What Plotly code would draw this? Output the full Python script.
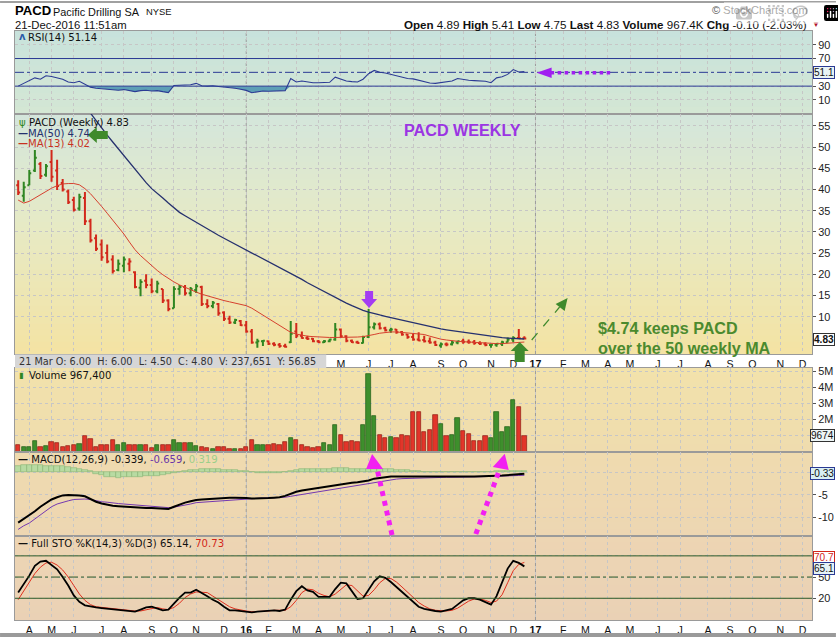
import plotly.graph_objects as go
import pandas as pd

# ---------------- data (weekly bars) ----------------
first_week = "2015-03-23"

opens = [41.0, 38.5, 41.0, 44.5, 46.0, 43.5, 46.5, 44.5, 41.5, 39.5,
         37.5, 35.5, 38.0, 32.5, 28.5, 27.0, 25.0, 23.5, 21.0, 22.0,
         22.5, 20.5, 16.8, 18.5, 17.5, 16.0, 16.5, 13.8, 12.0, 16.5,
         17.0, 15.5, 16.3, 17.0, 13.0, 12.5, 13.0, 11.0, 9.5, 8.6,
         9.0, 8.0, 6.5, 3.9, 4.2, 4.2, 3.6, 3.4, 3.1, 4.0,
         6.5, 5.5, 5.0, 4.8, 4.2, 4.0, 4.2, 4.6, 7.0, 5.4,
         4.3, 4.0, 3.8, 5.2, 7.5, 8.2, 7.3, 6.8, 7.0, 6.3,
         5.8, 5.2, 4.6, 4.5, 4.2, 3.9, 3.2, 3.5, 3.5, 3.9,
         4.2, 4.1, 4.0, 3.8, 3.6, 3.3, 3.4, 3.6, 4.0, 4.6,
         5.0, 4.89]
highs = [42.2, 41.8, 44.6, 49.3, 46.5, 46.0, 49.3, 47.0, 42.5, 40.0,
         38.3, 39.0, 39.4, 33.1, 29.4, 28.2, 27.0, 24.5, 23.5, 24.2,
         23.8, 20.7, 18.8, 20.0, 19.0, 18.5, 16.5, 14.1, 17.2, 17.5,
         17.5, 17.0, 17.7, 17.3, 14.1, 13.7, 13.2, 11.3, 10.2, 9.5,
         9.2, 9.0, 7.1, 4.8, 4.5, 4.4, 4.0, 3.8, 3.6, 9.0,
         8.5, 6.5, 5.5, 5.0, 4.5, 4.5, 4.8, 8.5, 7.2, 5.6,
         4.6, 4.3, 5.5, 11.8, 8.6, 8.6, 7.6, 7.4, 7.1, 6.6,
         5.9, 5.9, 6.3, 5.5, 5.1, 4.3, 3.9, 3.9, 4.3, 4.3,
         4.8, 4.6, 4.5, 4.2, 4.0, 3.6, 3.8, 4.3, 5.1, 5.4,
         7.1, 5.41]
lows = [38.7, 37.1, 41.0, 44.1, 42.5, 43.0, 41.8, 39.9, 39.5, 36.6,
        34.8, 35.0, 31.6, 27.5, 25.5, 23.2, 22.6, 20.2, 20.7, 20.5,
        20.7, 16.7, 14.8, 16.7, 15.5, 15.5, 13.2, 11.3, 12.0, 15.2,
        15.0, 14.8, 15.6, 12.5, 12.0, 12.0, 10.2, 9.0, 8.3, 8.3,
        7.8, 6.2, 3.6, 2.7, 3.1, 3.3, 3.0, 2.7, 2.7, 3.8,
        5.0, 4.8, 4.5, 4.0, 3.8, 3.8, 4.0, 4.3, 5.0, 4.0,
        3.8, 3.6, 3.7, 5.0, 7.0, 7.0, 6.5, 6.2, 6.0, 5.5,
        4.8, 4.3, 4.2, 3.9, 3.6, 3.1, 2.7, 3.0, 3.2, 3.5,
        3.6, 3.6, 3.4, 3.3, 3.0, 2.7, 2.9, 3.1, 3.9, 4.0,
        4.8, 4.75]
closes = [39.3, 40.5, 43.8, 47.5, 43.2, 45.5, 43.0, 40.8, 40.0, 37.0,
          35.2, 38.2, 32.5, 28.0, 26.0, 24.0, 23.0, 20.8, 22.5, 23.5,
          23.0, 17.0, 18.2, 17.5, 16.0, 17.8, 13.8, 11.8, 16.5, 17.0,
          15.5, 16.5, 17.2, 13.0, 12.5, 13.3, 10.8, 9.5, 8.6, 9.2,
          8.0, 6.5, 3.9, 4.2, 4.3, 3.6, 3.4, 3.1, 2.9, 6.0,
          5.5, 5.0, 4.8, 4.2, 4.0, 4.2, 4.6, 7.0, 5.4, 4.3,
          4.0, 3.8, 5.2, 7.5, 8.2, 7.3, 6.8, 7.0, 6.3, 5.8,
          5.2, 4.6, 4.4, 4.2, 3.9, 3.3, 3.5, 3.45, 3.9, 4.2,
          4.1, 4.0, 3.8, 3.6, 3.3, 3.4, 3.6, 4.0, 4.6, 5.0,
          4.93, 4.83]
volume_millions = [0.38, 0.27, 0.31, 0.63, 0.27, 0.33, 0.60, 0.55, 0.27, 0.33,
                   0.38, 0.48, 0.94, 0.79, 0.31, 0.42, 0.42, 0.69, 0.38, 0.55,
                   0.42, 0.38, 0.38, 0.38, 0.20, 0.38, 0.38, 0.38, 0.69, 0.52,
                   0.55, 0.55, 0.33, 0.27, 0.23, 0.17, 0.27, 0.31, 0.17, 0.17,
                   0.17, 0.27, 0.69, 0.42, 0.42, 0.42, 0.48, 0.42, 0.58, 0.85,
                   0.75, 0.42, 0.27, 0.20, 0.27, 0.54, 0.42, 1.67, 1.04, 0.58,
                   0.63, 0.58, 1.63, 4.85, 2.25, 1.04, 0.83, 0.90, 0.83, 1.04,
                   1.00, 2.46, 2.50, 1.20, 1.35, 2.30, 1.73, 1.00, 1.04, 2.10,
                   1.31, 1.10, 0.63, 0.63, 0.94, 0.83, 2.46, 1.19, 1.56, 3.23,
                   2.77, 0.9674]
ma50 = [None, None, None, None, None, None, None, None, None, None,
        None, None, None, 58.0, 56.2, 54.6, 52.8, 51.2, 49.6, 48.0,
        46.2, 44.6, 43.0, 41.6, 40.2, 39.2, 38.0, 36.8, 35.7, 34.6,
        33.8, 33.0, 32.2, 31.4, 30.6, 29.9, 29.2, 28.5, 27.8, 27.2,
        26.5, 25.9, 25.2, 24.5, 23.8, 23.0, 22.3, 21.6, 20.9, 20.2,
        19.5, 18.8, 18.0, 17.3, 16.6, 15.9, 15.2, 14.5, 13.8, 13.2,
        12.6, 12.0, 11.5, 11.1, 10.7, 10.4, 10.1, 9.8, 9.5, 9.2,
        8.9, 8.6, 8.2, 7.9, 7.6, 7.3, 7.1, 6.9, 6.7, 6.5,
        6.3, 6.1, 5.9, 5.7, 5.5, 5.35, 5.2, 5.05, 4.95, 4.85,
        4.78, 4.74]
ma13 = [37.5, 36.8, 37.2, 38.0, 38.8, 39.6, 40.3, 40.9, 41.3, 41.4,
        41.4, 41.1, 40.2, 39.0, 37.6, 36.0, 34.4, 32.8, 31.2, 29.5,
        27.6, 25.8, 24.4, 23.2, 22.0, 20.9, 19.9, 19.0, 18.2, 17.5,
        16.9, 16.3, 15.8, 15.3, 14.9, 14.5, 14.1, 13.8, 13.5, 13.2,
        12.9, 12.6, 12.0, 11.2, 10.4, 9.5, 8.6, 7.8, 7.0, 6.3,
        5.9, 5.6, 5.4, 5.3, 5.2, 5.15, 5.1, 5.1, 5.1, 5.1,
        5.15, 5.2, 5.3, 5.5, 5.8, 6.1, 6.3, 6.4, 6.4, 6.3,
        6.2, 6.1, 6.0, 5.8, 5.4, 5.0, 4.7, 4.5, 4.3, 4.2,
        4.1, 4.0, 3.9, 3.8, 3.75, 3.7, 3.65, 3.65, 3.7, 3.8,
        3.9, 4.02]
rsi14 = [30, 34, 38, 42, 40, 45, 44, 42, 40, 36,
         35, 37, 33, 28.5, 27, 26.5, 25.5, 24.5, 24, 25,
         24, 22, 23.5, 24, 23, 23.5, 22, 20.7, 31, 31.5,
         31, 32, 34, 30.5, 30, 30.5, 29.5, 29, 28, 27,
         25.5, 23.8, 20.5, 22, 23, 22.5, 22.5, 22.5, 23.5, 41,
         36, 37.5, 36, 35, 35, 35, 35.5, 43, 40, 37.5,
         36.5, 36, 40, 48, 52.7, 50, 49, 47, 45, 43,
         41, 40.5, 38.5, 36, 34.5, 34, 35, 36, 37.5, 41,
         39.5, 38.5, 38, 37.5, 37, 35, 42, 43.5, 47, 54,
         50.5, 51.14]
macd_line = [-11.1, -10.3, -9.6, -8.6, -7.6, -6.7, -6.0, -5.5, -5.1, -5.0,
             -5.0, -5.1, -5.3, -5.9, -6.5, -6.9, -7.2, -7.4, -7.5, -7.6,
             -7.7, -7.8, -7.8, -7.9, -7.9, -8.0, -8.0, -8.1, -7.6, -7.1,
             -6.7, -6.4, -6.1, -6.0, -5.9, -5.8, -5.8, -5.7, -5.6, -5.6,
             -5.6, -5.7, -5.8, -5.8, -5.8, -5.7, -5.6, -5.5, -5.2, -4.7,
             -4.3, -4.0, -3.8, -3.6, -3.4, -3.2, -3.0, -2.8, -2.6, -2.5,
             -2.3, -2.2, -2.0, -1.8, -1.4, -1.2, -1.0, -0.95, -0.95, -0.95,
             -1.0, -1.0, -1.0, -1.0, -1.05, -1.1, -1.1, -1.1, -1.05, -1.0,
             -1.0, -0.95, -0.9, -0.9, -0.85, -0.8, -0.75, -0.7, -0.6, -0.5,
             -0.4, -0.339]
macd_signal = [-12.6, -11.8, -11.2, -10.3, -9.2, -8.3, -7.6, -7.0, -6.6, -6.3,
               -6.0, -5.9, -5.9, -6.0, -6.3, -6.5, -6.6, -6.8, -6.9, -7.0,
               -7.1, -7.2, -7.3, -7.4, -7.5, -7.6, -7.7, -7.8, -7.7, -7.5,
               -7.2, -7.0, -6.7, -6.6, -6.5, -6.4, -6.3, -6.2, -6.1, -6.0,
               -5.9, -5.85, -5.8, -5.75, -5.7, -5.65, -5.6, -5.6, -5.5, -5.3,
               -5.1, -4.8, -4.6, -4.4, -4.2, -4.0, -3.8, -3.6, -3.4, -3.2,
               -3.1, -2.9, -2.7, -2.5, -2.3, -2.0, -1.8, -1.6, -1.5, -1.4,
               -1.35, -1.3, -1.2, -1.15, -1.15, -1.15, -1.15, -1.1, -1.1, -1.1,
               -1.1, -1.05, -1.0, -1.0, -0.95, -0.9, -0.9, -0.85, -0.8, -0.75,
               -0.7, -0.659]
macd_hist = [1.5, 1.6, 1.6, 1.6, 1.6, 1.5, 1.5, 1.4, 1.3, 1.2,
             1.0, 0.8, 0.5, 0.2, -0.3, -0.7, -1.0, -1.1, -1.2, -1.1,
             -1.1, -1.0, -1.0, -0.9, -0.9, -0.8, -0.6, -0.4, -0.2, 0.0,
             0.3, 0.5, 0.6, 0.7, 0.7, 0.7, 0.7, 0.6, 0.5, 0.4,
             0.3, 0.2, 0.0, -0.1, -0.2, -0.2, -0.1, -0.1, 0.0, 0.3,
             0.5, 0.7, 0.8, 0.8, 0.8, 0.8, 0.8, 0.9, 0.9, 0.9,
             0.8, 0.8, 0.8, 0.8, 0.8, 0.8, 0.8, 0.7, 0.6, 0.5,
             0.4, 0.3, 0.2, 0.1, 0.1, 0.1, 0.1, 0.0, 0.0, 0.1,
             0.1, 0.1, 0.1, 0.1, 0.1, 0.1, 0.2, 0.2, 0.2, 0.3,
             0.3, 0.319]
sto_k = [28, 40, 52, 66, 72, 73, 67, 61, 50, 38,
         24, 15, 10, 8, 7, 6, 5, 4, 3, 2,
         2, 1, 4, 7, 8, 5, 3, 4, 13, 21,
         28, 28, 32, 28, 23, 18, 14, 8, 3, 3,
         2, 2, 0, 1, 2, 3, 3, 2, 4, 18,
         30, 37, 31, 29, 22, 22, 22, 33, 42, 41,
         30, 19, 20, 32, 44, 51, 49, 43, 36, 29,
         21, 14, 8, 5, 3, 2, 1, 3, 5, 11,
         17, 20, 20, 18, 14, 11, 23, 42, 62, 73,
         70, 65.14]
sto_d = [18, 30, 42, 55, 64, 70, 71, 67, 60, 50,
         38, 26, 17, 11, 8, 7, 6, 5, 4, 3,
         2, 2, 2, 4, 6, 7, 5, 4, 7, 13,
         21, 26, 29, 29, 28, 23, 18, 13, 8, 5,
         3, 2, 1, 1, 1, 2, 3, 3, 3, 8,
         17, 28, 33, 32, 27, 24, 22, 26, 32, 39,
         38, 30, 23, 24, 32, 42, 48, 48, 43, 36,
         29, 21, 14, 9, 5, 3, 2, 2, 3, 6,
         11, 16, 19, 19, 17, 14, 16, 25, 42, 59,
         68, 70.73]

tick_dates = ["2015-04-06", "2015-05-04", "2015-06-01", "2015-07-06", "2015-08-03",
              "2015-09-07", "2015-10-05", "2015-11-02", "2015-12-07", "2016-01-04",
              "2016-02-01", "2016-03-07", "2016-04-04", "2016-05-02", "2016-06-06",
              "2016-07-04", "2016-08-01", "2016-09-05", "2016-10-03", "2016-11-07",
              "2016-12-05", "2017-01-02", "2017-02-06", "2017-03-06", "2017-04-03",
              "2017-05-01", "2017-06-05", "2017-07-03", "2017-08-07", "2017-09-04",
              "2017-10-02", "2017-11-06", "2017-12-04"]
tick_text = ["A", "M", "J", "J", "A", "S", "O", "N", "D", "<b>16</b>",
             "F", "M", "A", "M", "J", "J", "A", "S", "O", "N",
             "D", "<b>17</b>", "F", "M", "A", "M", "J", "J", "A", "S",
             "O", "N", "D"]
hidden_under_status_box = 13   # month labels covered by the status box under the price panel
year_starts = ["2016-01-04", "2017-01-02"]

x_start, x_end = "2015-03-19", "2017-12-16"

weeks = pd.date_range(first_week, periods=len(closes), freq="7D")

# ---------------- geometry ----------------
# Positions below are in pixels of the 838x637 target picture.  The page is
# photographed from a slightly larger layout area, so the figure is laid out on
# that area and every pixel position is converted with the same factors.
REF_W, REF_H = 838, 637
SX, SY = 838 / 846, 637 / 648
FIG_W, FIG_H = round(REF_W / SX), round(REF_H / SY)
FS = 1 / SX                                   # font size factor
PL, PR, PT, PB = 15, 814, 30, 619             # plot area, target pixels


def xp(px):
    return (px - PL) / (PR - PL)


def yp(py):
    return (PB - py) / (PB - PT)


panels = {  # top, bottom in target pixels
    "rsi": (30, 113), "price": (113, 353), "vol": (367, 451),
    "macd": (451, 535), "sto": (535, 619)}


def dom(name):
    t, b = panels[name]
    return [yp(b), yp(t)]


GREEN, RED = "#2f8622", "#d2281b"
up = [closes[i] > (closes[i - 1] if i > 0 else opens[i]) for i in range(len(closes))]

fig = go.Figure()

# RSI
fig.add_trace(go.Scatter(x=weeks, y=[30] * len(rsi14), mode="lines",
                         line=dict(width=0, color="rgba(0,0,0,0)"), yaxis="y", xaxis="x",
                         hoverinfo="skip"))
fig.add_trace(go.Scatter(x=weeks, y=[min(v, 30) for v in rsi14], mode="lines",
                         line=dict(width=0, color="rgba(0,0,0,0)"), fill="tonexty",
                         fillcolor="#5d9fb6", yaxis="y", xaxis="x", hoverinfo="skip"))
fig.add_trace(go.Scatter(x=weeks, y=rsi14, mode="lines", line=dict(color="#2b3a94", width=1.1),
                         yaxis="y", xaxis="x"))

# price bars
for flag, col in ((True, GREEN), (False, RED)):
    idx = [i for i in range(len(closes)) if up[i] == flag]
    fig.add_trace(go.Ohlc(x=[weeks[i] for i in idx], open=[opens[i] for i in idx],
                          high=[highs[i] for i in idx], low=[lows[i] for i in idx],
                          close=[closes[i] for i in idx], tickwidth=0.35,
                          increasing=dict(line=dict(color=col, width=2)),
                          decreasing=dict(line=dict(color=col, width=2)),
                          xaxis="x2", yaxis="y2"))
fig.add_trace(go.Scatter(x=weeks, y=ma50, mode="lines", line=dict(color="#25306e", width=1.3),
                         xaxis="x2", yaxis="y2", connectgaps=False))
fig.add_trace(go.Scatter(x=weeks, y=ma13, mode="lines", line=dict(color="#d6402e", width=1),
                         xaxis="x2", yaxis="y2"))

# volume
WEEK_MS = 7 * 24 * 3600 * 1000
fig.add_trace(go.Bar(x=weeks, y=volume_millions, width=[WEEK_MS * 0.78] * len(weeks),
                     marker=dict(color=["#3e8f2c" if u else "#e2352a" for u in up],
                                 line=dict(color=["#1f5c16" if u else "#8f1d12" for u in up], width=0.7)),
                     xaxis="x3", yaxis="y3"))

# MACD
fig.add_trace(go.Bar(x=weeks, y=macd_hist, width=[WEEK_MS] * len(weeks),
                     marker=dict(color="#b8dba2", line=dict(color="#86b676", width=0.6)),
                     xaxis="x4", yaxis="y4"))
fig.add_trace(go.Scatter(x=weeks, y=macd_signal, mode="lines", line=dict(color="#7438b0", width=1),
                         xaxis="x4", yaxis="y4"))
fig.add_trace(go.Scatter(x=weeks, y=macd_line, mode="lines", line=dict(color="#000000", width=2),
                         xaxis="x4", yaxis="y4"))

# Full stochastics
fig.add_trace(go.Scatter(x=weeks, y=sto_d, mode="lines", line=dict(color="#e0301e", width=1),
                         xaxis="x5", yaxis="y5"))
fig.add_trace(go.Scatter(x=weeks, y=sto_k, mode="lines", line=dict(color="#000000", width=1.8),
                         xaxis="x5", yaxis="y5"))

# ---------------- axes ----------------
TICKFONT = dict(family="Liberation Sans", size=10.8 * FS, color="#222")
xcommon = dict(type="date", range=[x_start, x_end], tickvals=tick_dates, ticktext=tick_text,
               showgrid=True, gridcolor="#c6c6c6", griddash="dot", gridwidth=1,
               showline=True, linecolor="#9a9a9a", mirror=True, ticks="", zeroline=False,
               tickfont=dict(family="Liberation Sans", size=10.5 * FS, color="#111"),
               rangeslider=dict(visible=False), fixedrange=True, domain=[0, 1])
ycommon = dict(side="right", showline=True, linecolor="#9a9a9a", mirror=True, ticks="outside",
               ticklen=3, tickcolor="#555", tickfont=TICKFONT, showgrid=True, gridcolor="#c6c6c6",
               griddash="dot", zeroline=False, fixedrange=True)

layout = dict(width=FIG_W, height=FIG_H, autosize=False, showlegend=False,
              margin=dict(l=PL / SX, r=(REF_W - PR) / SX, t=PT / SY, b=(REF_H - PB) / SY, pad=0),
              paper_bgcolor="white", plot_bgcolor="rgba(0,0,0,0)", bargap=0)
names = ["rsi", "price", "vol", "macd", "sto"]
for k, name in enumerate(names, start=1):
    xa = dict(xcommon, anchor="y" if k == 1 else f"y{k}")
    xa["showticklabels"] = name in ("price", "sto")
    if name == "price":
        xa["ticktext"] = [""] * hidden_under_status_box + tick_text[hidden_under_status_box:]
    if k > 1:
        xa["matches"] = "x"
    layout["xaxis" if k == 1 else f"xaxis{k}"] = xa
yaxes = {
    "rsi": dict(range=[-10.4, 109.9], tickvals=[10, 30, 70, 90]),
    "price": dict(range=[1.2, 57.8], tickvals=[10, 15, 20, 25, 30, 35, 40, 45, 50, 55]),
    "vol": dict(range=[-0.03, 5.22], tickvals=[1, 2, 3, 4, 5], ticktext=["", "2M", "3M", "4M", "5M"]),
    "macd": dict(range=[-14.06, 4.48], tickvals=[0, -5, -10], ticktext=["", "-5", "-10"]),
    "sto": dict(range=[-10.75, 108.1], tickvals=[20, 50, 80]),
}
for k, name in enumerate(names, start=1):
    ya = dict(ycommon, domain=dom(name), anchor="x" if k == 1 else f"x{k}", **yaxes[name])
    layout["yaxis" if k == 1 else f"yaxis{k}"] = ya
fig.update_layout(**layout)

# ---------------- backgrounds (gradients) ----------------
shapes = []


def hx(c):
    c = c.lstrip("#")
    return [int(c[i:i + 2], 16) for i in (0, 2, 4)]


def grad(top, bot, stops, n=30):
    out = []
    for j in range(n):
        f = (j + 0.5) / n
        for a in range(len(stops) - 1):
            f0, c0 = stops[a]
            f1, c1 = stops[a + 1]
            if f0 <= f <= f1:
                t = (f - f0) / (f1 - f0)
                r, g, b = [round(u + (v - u) * t) for u, v in zip(hx(c0), hx(c1))]
                break
        y0 = top + (bot - top) * j / n
        y1 = top + (bot - top) * (j + 1) / n
        out.append(dict(type="rect", xref="paper", yref="paper", x0=0, x1=1,
                        y0=yp(y1) - 0.0005, y1=yp(y0) + 0.0005, line=dict(width=0),
                        fillcolor=f"rgb({r},{g},{b})", layer="below"))
    return out


shapes += grad(30, 113, [(0, "#c8e2dc"), (1, "#d4e7d4")], 12)
shapes += grad(113, 353, [(0, "#d3e6dc"), (0.45, "#e6eac6"), (1, "#f4e3a3")], 40)
shapes += grad(367, 451, [(0, "#f2e2ab"), (1, "#efdcae")], 12)
shapes += grad(451, 535, [(0, "#efdbaf"), (1, "#edd6b2")], 12)
shapes += grad(535, 619, [(0, "#edd5b3"), (1, "#ead1b5")], 12)

# status box under price panel
shapes.append(dict(type="rect", xref="paper", yref="paper", x0=xp(15), x1=xp(327),
                   y0=yp(367), y1=yp(353.5), fillcolor="#d6d6d6", line=dict(width=0), layer="above"))
# top gray rule and bottom band
shapes.append(dict(type="rect", xref="paper", yref="paper", x0=xp(0), x1=xp(REF_W),
                   y0=yp(2), y1=yp(0), fillcolor="#a0a0a0", line=dict(width=0)))
shapes.append(dict(type="rect", xref="paper", yref="paper", x0=xp(0), x1=xp(REF_W),
                   y0=yp(REF_H), y1=yp(632), fillcolor="#9a9a9a", line=dict(width=0)))

# indicator reference lines
for v, d in ((70, "solid"), (30, "solid"), (50, "dashdot")):
    shapes.append(dict(type="line", xref="paper", yref="y", x0=0, x1=1, y0=v, y1=v,
                       line=dict(color="#2b3a94", width=1, dash=d)))
for v, d in ((80, "solid"), (20, "solid"), (50, "dashdot")):
    shapes.append(dict(type="line", xref="paper", yref="y5", x0=0, x1=1, y0=v, y1=v,
                       line=dict(color="#2e5a26", width=1, dash=d)))
# year separators
for yd in year_starts:
    for k, name in enumerate(names, start=1):
        t, b = panels[name]
        shapes.append(dict(type="line", xref="x" if k == 1 else f"x{k}", yref="paper",
                           x0=yd, x1=yd, y0=yp(b), y1=yp(t),
                           line=dict(color="#9c9c9c", width=1, dash="dot"), layer="below"))


def poly(pts, color):
    path = "M " + " L ".join(f"{xp(a):.5f},{yp(b):.5f}" for a, b in pts) + " Z"
    return dict(type="path", xref="paper", yref="paper", path=path, fillcolor=color,
                line=dict(width=0), layer="above")


# green left arrow near legend
shapes.append(poly([(88, 134), (97, 126), (97, 130), (108, 130), (108, 138), (97, 138), (97, 142)], "#3f8a2c"))
# purple down arrow over the spike
shapes.append(poly([(366, 290), (374, 290), (374, 298), (378, 298), (370, 307), (362, 298), (366, 298)], "#a43cf2"))
# green up arrow under last bars
shapes.append(poly([(521, 341), (530, 350), (526, 350), (526, 361), (516, 361), (516, 350), (512, 350)], "#3f8a2c"))
# green dashed arrow
shapes.append(dict(type="line", xref="paper", yref="paper", x0=xp(533), y0=yp(339), x1=xp(561), y1=yp(306),
                   line=dict(color="#3f8a2c", width=1.2, dash="dash")))
shapes.append(poly([(569, 297), (566, 310), (557, 303)], "#3f8a2c"))
# purple dotted arrow in RSI
shapes.append(dict(type="line", xref="paper", yref="paper", x0=xp(552), y0=yp(71.8), x1=xp(615), y1=yp(71.8),
                   line=dict(color="#a020f0", width=3.5, dash="dot")))
shapes.append(poly([(538, 71.8), (553, 66.5), (553, 77)], "#a020f0"))
# magenta dotted arrows in MACD
shapes.append(dict(type="line", xref="paper", yref="paper", x0=xp(393), y0=yp(534), x1=xp(378), y1=yp(468),
                   line=dict(color="#f21ff2", width=5, dash="dot")))
shapes.append(poly([(373, 453), (384, 468), (367, 468)], "#f21ff2"))
shapes.append(dict(type="line", xref="paper", yref="paper", x0=xp(477), y0=yp(533), x1=xp(501), y1=yp(468),
                   line=dict(color="#f21ff2", width=5, dash="dot")))
shapes.append(poly([(506, 452.7), (510, 469), (494, 466)], "#f21ff2"))

fig.update_layout(shapes=shapes)

# ---------------- text ----------------
ann = []


def T(x, y, text, size, color="#111", family="Liberation Sans", xanchor="left", **kw):
    d = dict(xref="paper", yref="paper", x=xp(x), y=yp(y), text=text, showarrow=False,
             xanchor=xanchor, yanchor="middle", font=dict(size=size * FS, color=color, family=family))
    d.update(kw)
    ann.append(d)


T(13, 10, "<b>PACD</b>", 13, "#000")
T(51, 10.5, "Pacific Drilling SA", 10.8, "#111")
T(144, 11, "NYSE", 9.3, "#111")
T(13, 24, "21-Dec-2016 11:51am", 11.2, "#111")
T(812, 9, "© StockCharts.com", 11, "#555", xanchor="right")
T(811, 24, "<b>Open</b> 4.89 <b>High</b> 5.41 <b>Low</b> 4.75 <b>Last</b> 4.83 "
           "<b>Volume</b> 967.4K <b>Chg</b> -0.10 (-2.03%)", 11.5, "#111", xanchor="right")
T(812, 24, "▼", 8, "#b0102a")

LEG = "DejaVu Sans"
T(26, 36.5, "RSI(14) 51.14", 10, "#111", LEG)
T(17, 36, "<b>ʌ</b>", 10, "#2b5aa8", LEG)
T(27, 121, "PACD (Weekly) 4.83", 10, "#111", LEG)
T(17, 121, "ψ", 10, "#2f8622", LEG)
T(16, 132, "<b>—</b>MA(50) 4.74", 10, "#25306e", LEG)
T(16, 142.5, "<b>—</b>MA(13) 4.02", 10, "#c8321f", LEG)
T(27, 374, "Volume 967,400", 10, "#111", LEG)
T(17, 374, "▮", 8, "#2f8622", LEG)
T(16, 458, "<b>—</b> MACD(12,26,9) -0.339, <span style='color:#6a36a8'>-0.659</span>, "
           "<span style='color:#9ccf8a'>0.319</span>", 10, "#111", LEG)
T(16, 542.5, "<b>—</b> Full STO %K(14,3) %D(3) 65.14, <span style='color:#d2281b'>70.73</span>",
  10, "#111", LEG)
T(17, 360.5, "21 Mar O: 6.00\u00a0\u00a0H: 6.00\u00a0\u00a0L: 4.50\u00a0\u00a0C: 4.80\u00a0\u00a0"
             "V: 237,651\u00a0\u00a0Y: 56.85", 9.6, "#333", LEG)

T(403, 128.5, "<b>PACD WEEKLY</b>", 16, "#9b35e3")
T(597, 326.5, "<b>$4.74 keeps PACD</b>", 16, "#4b8a2e")
T(597, 346.5, "<b>over the 50 weekly MA</b>", 16, "#4b8a2e")

# right-hand value boxes (kept inside the figure so nothing overflows the page)
RIGHT = REF_W - 1
BOX = dict(borderwidth=1, borderpad=0, xanchor="right")
T(RIGHT, 71.7, "51.1", 10, "#111", bgcolor="#e9f3f5", bordercolor="#2b3a94", **BOX)
T(RIGHT, 338, "<b>4.83</b>", 10, "#111", bgcolor="#ffffff", bordercolor="#333", **BOX)
T(RIGHT, 435, "9674", 10, "#111", bgcolor="#eef6f6", bordercolor="#333", **BOX)
T(RIGHT, 472.7, "-0.33", 10, "#111", bgcolor="#d8eef4", bordercolor="#2b3a94", **BOX)
T(RIGHT, 556, "70.7", 10, "#d2281b", bgcolor="#ffffff", bordercolor="#d2281b", **BOX)
T(RIGHT, 567, "65.1", 10, "#111", bgcolor="#e6f2f5", bordercolor="#2b3a94", **BOX)

fig.update_layout(annotations=ann)

# the page's default 8px body margin would shift the chart; remove it
fig.write_html("out.html", post_script="document.body.style.margin='0';")
